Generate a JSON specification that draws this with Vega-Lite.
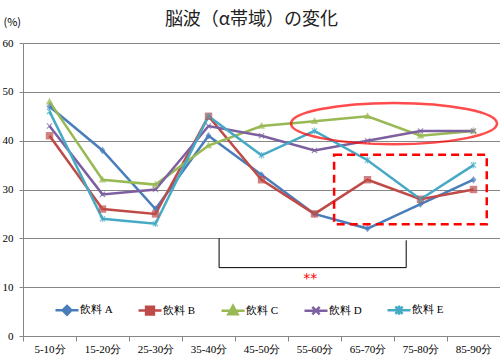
{
  "$schema": "https://vega.github.io/schema/vega-lite/v6.json",
  "width": 477,
  "height": 293,
  "autosize": "none",
  "padding": {"left": 23, "top": 43, "right": 0, "bottom": 19},
  "background": "white",
  "title": {
    "text": "脳波（α帯域）の変化",
    "font": "Noto Sans CJK JP",
    "fontSize": 18,
    "fontWeight": "normal",
    "color": "#222222",
    "anchor": "middle",
    "frame": "group",
    "baseline": "alphabetic",
    "dx": -10,
    "dy": 27,
    "offset": 0
  },
  "config": {
    "view": {"stroke": null},
    "axis": {"labelFont": "Liberation Serif", "labelFontSize": 11, "labelColor": "#000000"}
  },
  "datasets": {
    "series": [
      {"time": "5-10分", "drink": "飲料 A", "value": 47},
      {"time": "15-20分", "drink": "飲料 A", "value": 38},
      {"time": "25-30分", "drink": "飲料 A", "value": 26},
      {"time": "35-40分", "drink": "飲料 A", "value": 41},
      {"time": "45-50分", "drink": "飲料 A", "value": 33},
      {"time": "55-60分", "drink": "飲料 A", "value": 25},
      {"time": "65-70分", "drink": "飲料 A", "value": 22},
      {"time": "75-80分", "drink": "飲料 A", "value": 27},
      {"time": "85-90分", "drink": "飲料 A", "value": 32},
      {"time": "5-10分", "drink": "飲料 B", "value": 41},
      {"time": "15-20分", "drink": "飲料 B", "value": 26},
      {"time": "25-30分", "drink": "飲料 B", "value": 25},
      {"time": "35-40分", "drink": "飲料 B", "value": 45},
      {"time": "45-50分", "drink": "飲料 B", "value": 32},
      {"time": "55-60分", "drink": "飲料 B", "value": 25},
      {"time": "65-70分", "drink": "飲料 B", "value": 32},
      {"time": "75-80分", "drink": "飲料 B", "value": 28},
      {"time": "85-90分", "drink": "飲料 B", "value": 30},
      {"time": "5-10分", "drink": "飲料 C", "value": 48},
      {"time": "15-20分", "drink": "飲料 C", "value": 32},
      {"time": "25-30分", "drink": "飲料 C", "value": 31},
      {"time": "35-40分", "drink": "飲料 C", "value": 39},
      {"time": "45-50分", "drink": "飲料 C", "value": 43},
      {"time": "55-60分", "drink": "飲料 C", "value": 44},
      {"time": "65-70分", "drink": "飲料 C", "value": 45},
      {"time": "75-80分", "drink": "飲料 C", "value": 41},
      {"time": "85-90分", "drink": "飲料 C", "value": 42},
      {"time": "5-10分", "drink": "飲料 D", "value": 43},
      {"time": "15-20分", "drink": "飲料 D", "value": 29},
      {"time": "25-30分", "drink": "飲料 D", "value": 30},
      {"time": "35-40分", "drink": "飲料 D", "value": 43},
      {"time": "45-50分", "drink": "飲料 D", "value": 41},
      {"time": "55-60分", "drink": "飲料 D", "value": 38},
      {"time": "65-70分", "drink": "飲料 D", "value": 40},
      {"time": "75-80分", "drink": "飲料 D", "value": 42},
      {"time": "85-90分", "drink": "飲料 D", "value": 42},
      {"time": "5-10分", "drink": "飲料 E", "value": 46},
      {"time": "15-20分", "drink": "飲料 E", "value": 24},
      {"time": "25-30分", "drink": "飲料 E", "value": 23},
      {"time": "35-40分", "drink": "飲料 E", "value": 45},
      {"time": "45-50分", "drink": "飲料 E", "value": 37},
      {"time": "55-60分", "drink": "飲料 E", "value": 42},
      {"time": "65-70分", "drink": "飲料 E", "value": 36},
      {"time": "75-80分", "drink": "飲料 E", "value": 28},
      {"time": "85-90分", "drink": "飲料 E", "value": 35}
    ],
    "bracket": [
      {"order": 1, "x": 3.7, "y": 20},
      {"order": 2, "x": 3.7, "y": 14},
      {"order": 3, "x": 7.23, "y": 14},
      {"order": 4, "x": 7.23, "y": 19.6}
    ],
    "box": [{"x": 5.87, "x2": 8.75, "y": 37.1, "y2": 22.9}],
    "ellipse": [{"x": 7.0, "y": 43.5}],
    "stars": [{"x": 5.42, "y": 11.7, "label": "**"}]
  },
  "resolve": {"scale": {"x": "independent"}},
  "layer": [
    {
      "data": {"name": "series"},
      "mark": {"type": "line", "strokeWidth": 2.5},
      "encoding": {
        "x": {
          "field": "time", "type": "nominal", "sort": null,
          "scale": {"type": "band", "paddingInner": 0, "paddingOuter": 0},
          "axis": {
            "title": null, "labelAngle": 0, "tickBand": "extent", "tickSize": 5,
            "tickColor": "#868686", "domainColor": "#868686", "labelPadding": 2
          }
        },
        "y": {
          "field": "value", "type": "quantitative",
          "scale": {"domain": [0, 60], "nice": false},
          "axis": {
            "values": [0, 10, 20, 30, 40, 50, 60],
            "title": "(%)", "titleAngle": 0, "titleX": -20, "titleY": -21,
            "titleAlign": "left", "titleBaseline": "middle", "titleFontSize": 11,
            "titleFontWeight": "normal", "titleFont": "Noto Sans CJK JP",
            "gridColor": "#868686", "domainColor": "#868686", "tickColor": "#868686",
            "tickSize": 4, "labelPadding": 6
          }
        },
        "color": {
          "field": "drink", "type": "nominal",
          "scale": {
            "domain": ["飲料 A", "飲料 B", "飲料 C", "飲料 D", "飲料 E"],
            "range": ["#4a7ebb", "#be4b48", "#98b954", "#7d60a0", "#46aac5"]
          },
          "legend": {
            "title": null, "orient": "none", "direction": "horizontal",
            "legendX": 31, "legendY": 254, "padding": 0,
            "symbolSize": 529, "symbolStrokeWidth": 2.5,
            "labelFont": "Liberation Serif", "labelFontSize": 11, "labelColor": "#000000",
            "labelOffset": 0, "columnPadding": 20,
            "encode": {
              "symbols": {
                "update": {
                  "shape": {"signal": "datum.value == '飲料 A' ? 'M -1 0 L 1 0 M 0 -0.38 L 0.38 0 L 0 0.38 L -0.38 0 Z' : datum.value == '飲料 B' ? 'M -1 0 L 1 0 M -0.34 -0.34 L 0.34 -0.34 L 0.34 0.34 L -0.34 0.34 Z' : datum.value == '飲料 C' ? 'M -1 0 L 1 0 M 0 -0.42 L 0.4 0.3 L -0.4 0.3 Z' : datum.value == '飲料 D' ? 'M -1 0 L 1 0 M -0.32 -0.32 L 0.32 0.32 M -0.32 0.32 L 0.32 -0.32' : 'M -1 0 L 1 0 M -0.32 -0.32 L 0.32 0.32 M -0.32 0.32 L 0.32 -0.32 M 0 -0.4 L 0 0.4'"},
                  "size": {"value": 529},
                  "fill": {"signal": "scale('color', datum.value)"},
                  "stroke": {"signal": "scale('color', datum.value)"},
                  "strokeWidth": {"value": 2.5},
                  "opacity": {"value": 1}
                }
              }
            }
          }
        }
      }
    },
    {
      "data": {"name": "series"},
      "transform": [{"filter": "datum.drink == '飲料 A'"}],
      "mark": {"type": "point", "filled": true, "size": 55, "strokeWidth": 1.2, "shape": "M 0 -1 L 0.8 0 L 0 1 L -0.8 0 Z"},
      "encoding": {
        "x": {"field": "time", "type": "nominal", "sort": null, "scale": {"type": "band", "paddingInner": 0, "paddingOuter": 0}, "axis": null},
        "y": {"field": "value", "type": "quantitative"},
        "color": {"field": "drink", "type": "nominal", "legend": null}
      }
    },
    {
      "data": {"name": "series"},
      "transform": [{"filter": "datum.drink == '飲料 B'"}],
      "mark": {"type": "point", "filled": true, "size": 55, "strokeWidth": 1.2, "shape": "square"},
      "encoding": {
        "x": {"field": "time", "type": "nominal", "sort": null, "scale": {"type": "band", "paddingInner": 0, "paddingOuter": 0}, "axis": null},
        "y": {"field": "value", "type": "quantitative"},
        "color": {"field": "drink", "type": "nominal", "legend": null}
      }
    },
    {
      "data": {"name": "series"},
      "transform": [{"filter": "datum.drink == '飲料 C'"}],
      "mark": {"type": "point", "filled": true, "size": 55, "strokeWidth": 1.2, "shape": "M 0 -1.1 L 1 0.75 L -1 0.75 Z"},
      "encoding": {
        "x": {"field": "time", "type": "nominal", "sort": null, "scale": {"type": "band", "paddingInner": 0, "paddingOuter": 0}, "axis": null},
        "y": {"field": "value", "type": "quantitative"},
        "color": {"field": "drink", "type": "nominal", "legend": null}
      }
    },
    {
      "data": {"name": "series"},
      "transform": [{"filter": "datum.drink == '飲料 D'"}],
      "mark": {"type": "point", "filled": false, "size": 55, "strokeWidth": 1.2, "shape": "M -0.7 -0.7 L 0.7 0.7 M -0.7 0.7 L 0.7 -0.7"},
      "encoding": {
        "x": {"field": "time", "type": "nominal", "sort": null, "scale": {"type": "band", "paddingInner": 0, "paddingOuter": 0}, "axis": null},
        "y": {"field": "value", "type": "quantitative"},
        "color": {"field": "drink", "type": "nominal", "legend": null}
      }
    },
    {
      "data": {"name": "series"},
      "transform": [{"filter": "datum.drink == '飲料 E'"}],
      "mark": {"type": "point", "filled": false, "size": 55, "strokeWidth": 1.2, "shape": "M -0.7 -0.7 L 0.7 0.7 M -0.7 0.7 L 0.7 -0.7 M 0 -0.9 L 0 0.9"},
      "encoding": {
        "x": {"field": "time", "type": "nominal", "sort": null, "scale": {"type": "band", "paddingInner": 0, "paddingOuter": 0}, "axis": null},
        "y": {"field": "value", "type": "quantitative"},
        "color": {"field": "drink", "type": "nominal", "legend": null}
      }
    },
    {
      "data": {"name": "bracket"},
      "mark": {"type": "line", "color": "#000000", "strokeWidth": 1},
      "encoding": {
        "x": {"field": "x", "type": "quantitative", "scale": {"domain": [0, 9], "nice": false, "zero": false}, "axis": null},
        "y": {"field": "y", "type": "quantitative"},
        "order": {"field": "order"}
      }
    },
    {
      "data": {"name": "box"},
      "mark": {"type": "rect", "fill": null, "stroke": "#ff0000", "strokeWidth": 2.5, "strokeDash": [8, 5], "filled": false},
      "encoding": {
        "x": {"field": "x", "type": "quantitative", "scale": {"domain": [0, 9], "nice": false, "zero": false}, "axis": null},
        "x2": {"field": "x2"},
        "y": {"field": "y", "type": "quantitative"},
        "y2": {"field": "y2"}
      }
    },
    {
      "data": {"name": "ellipse"},
      "mark": {
        "type": "point", "filled": false, "stroke": "#ff0000", "strokeWidth": 2.5,
        "size": 42436,
        "shape": "M -1 0 C -1 -0.11 -0.55 -0.2 0 -0.2 C 0.55 -0.2 1 -0.11 1 0 C 1 0.11 0.55 0.2 0 0.2 C -0.55 0.2 -1 0.11 -1 0 Z"
      },
      "encoding": {
        "x": {"field": "x", "type": "quantitative", "scale": {"domain": [0, 9], "nice": false, "zero": false}, "axis": null},
        "y": {"field": "y", "type": "quantitative"}
      }
    },
    {
      "data": {"name": "stars"},
      "mark": {"type": "text", "color": "#ff0000", "fontSize": 14, "font": "DejaVu Sans", "baseline": "middle"},
      "encoding": {
        "x": {"field": "x", "type": "quantitative", "scale": {"domain": [0, 9], "nice": false, "zero": false}, "axis": null},
        "y": {"field": "y", "type": "quantitative"},
        "text": {"field": "label"}
      }
    }
  ]
}
